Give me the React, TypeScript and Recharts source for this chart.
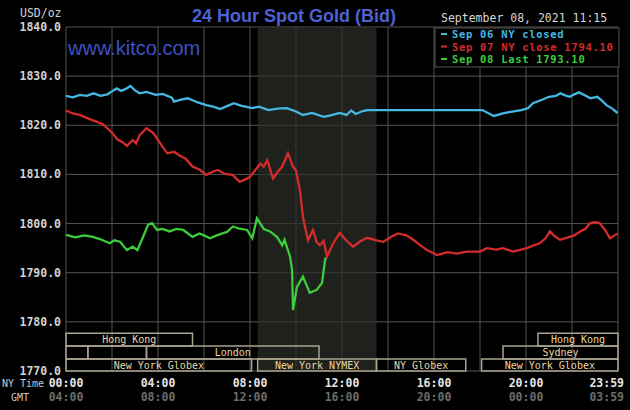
import React from 'react';
import {CartesianGrid, Line, LineChart, ReferenceArea, XAxis, YAxis} from 'recharts';

// [hour of NY day, USD/oz]
const sep06 = [
    [0, 1826.0], [0.3, 1825.7], [0.6, 1826.2], [0.9, 1826.0], [1.2, 1826.5], [1.5, 1826.0], [1.8, 1826.3],
    [2.0, 1826.9], [2.2, 1827.5], [2.4, 1827.0], [2.6, 1827.4], [2.8, 1828.0], [3.0, 1827.1], [3.2, 1826.5],
    [3.5, 1826.8], [3.9, 1826.2], [4.2, 1826.4], [4.6, 1825.6], [4.7, 1824.8], [5.0, 1825.2], [5.3, 1825.5],
    [5.7, 1824.7], [6.1, 1824.1], [6.4, 1823.8], [6.7, 1823.3], [7.0, 1823.9], [7.3, 1824.5], [7.6, 1824.0],
    [8.1, 1823.5], [8.4, 1823.8], [8.8, 1823.1], [9.2, 1823.4], [9.6, 1823.5], [10.0, 1822.8], [10.3, 1822.1],
    [10.7, 1822.5], [11.2, 1821.7], [11.5, 1822.0], [11.9, 1822.5], [12.2, 1822.1], [12.4, 1823.0], [12.6, 1822.3],
    [12.9, 1822.9], [13.1, 1823.1], [18.1, 1823.1], [18.6, 1821.9], [19.0, 1822.4], [19.4, 1822.8], [19.8, 1823.1],
    [20.1, 1823.5], [20.3, 1824.5], [20.7, 1825.2], [21.0, 1825.8], [21.3, 1826.0], [21.5, 1826.5], [21.7, 1826.1],
    [21.9, 1825.8], [22.1, 1826.3], [22.3, 1826.7], [22.6, 1826.0], [22.8, 1825.5], [23.1, 1825.8], [23.3, 1825.0],
    [23.5, 1824.1], [23.75, 1823.4], [23.98, 1822.5],
];

const sep07 = [
    [0, 1823.0], [0.3, 1822.4], [0.6, 1822.1], [1.0, 1821.3], [1.35, 1820.7], [1.6, 1820.2], [1.8, 1819.4],
    [2.0, 1818.5], [2.26, 1817.0], [2.45, 1816.6], [2.65, 1815.8], [2.9, 1817.0], [3.05, 1816.3], [3.2, 1818.0],
    [3.5, 1819.4], [3.8, 1818.4], [4.1, 1816.3], [4.4, 1814.3], [4.7, 1814.6], [4.95, 1813.8], [5.2, 1813.2],
    [5.5, 1811.6], [5.8, 1811.0], [6.1, 1809.9], [6.35, 1810.5], [6.6, 1810.9], [6.9, 1810.1], [7.25, 1809.9],
    [7.55, 1808.5], [7.8, 1809.0], [8.0, 1809.5], [8.25, 1811.0], [8.45, 1812.2], [8.6, 1811.6], [8.75, 1812.9],
    [9.0, 1809.2], [9.2, 1810.5], [9.4, 1811.6], [9.65, 1814.3], [9.87, 1811.6], [10.0, 1810.8], [10.17, 1806.8],
    [10.3, 1801.4], [10.52, 1796.6], [10.74, 1798.7], [10.9, 1796.2], [11.04, 1795.6], [11.2, 1796.5], [11.35, 1793.3],
    [11.6, 1795.8], [11.9, 1798.1], [12.2, 1796.5], [12.48, 1795.3], [12.8, 1796.4], [13.1, 1797.1], [13.5, 1796.6],
    [13.8, 1796.3], [14.1, 1797.2], [14.43, 1798.0], [14.8, 1797.6], [15.1, 1796.7], [15.4, 1795.6], [15.7, 1794.6],
    [16.13, 1793.6], [16.6, 1794.2], [17.0, 1793.9], [17.43, 1794.3], [18.0, 1794.3], [18.3, 1795.0], [18.7, 1794.7],
    [19.0, 1795.0], [19.43, 1794.3], [19.7, 1794.6], [20.04, 1795.0], [20.3, 1795.5], [20.6, 1796.0], [20.85, 1797.0],
    [21.04, 1798.4], [21.25, 1797.4], [21.48, 1796.7], [21.9, 1797.3], [22.1, 1797.6], [22.35, 1798.4], [22.6, 1799.0],
    [22.78, 1800.1], [23.0, 1800.3], [23.2, 1800.1], [23.45, 1798.6], [23.65, 1797.0], [23.85, 1797.6], [24, 1798.0],
];

const sep08 = [
    [0, 1797.7], [0.4, 1797.2], [0.8, 1797.6], [1.17, 1797.3], [1.5, 1796.8], [1.9, 1796.0], [2.1, 1796.6],
    [2.35, 1796.3], [2.65, 1794.6], [2.9, 1795.3], [3.1, 1794.6], [3.3, 1796.7], [3.57, 1799.8], [3.74, 1800.1],
    [3.96, 1798.7], [4.2, 1798.9], [4.5, 1798.4], [4.8, 1798.9], [5.1, 1798.7], [5.5, 1797.3], [5.8, 1798.0],
    [6.0, 1797.6], [6.26, 1797.0], [6.5, 1797.5], [6.8, 1798.0], [7.0, 1798.3], [7.26, 1799.4], [7.5, 1799.0],
    [7.87, 1798.7], [8.1, 1797.0], [8.3, 1801.1], [8.6, 1798.9], [8.87, 1798.4], [9.17, 1797.3], [9.4, 1795.6],
    [9.5, 1796.7], [9.74, 1793.3], [9.83, 1790.6], [9.87, 1782.4], [10.04, 1787.1], [10.3, 1789.2], [10.6, 1785.9],
    [10.9, 1786.5], [11.13, 1787.9], [11.28, 1793.1],
];

const priceTicks = [1770, 1780, 1790, 1800, 1810, 1820, 1830, 1840];
const hourTicks = [0, 2, 4, 6, 8, 10, 12, 14, 16, 18, 20, 22, 24];
const labelHours = [0, 4, 8, 12, 16, 20, 24];
const nyTimeLabels = ['00:00', '04:00', '08:00', '12:00', '16:00', '20:00', '23:59'];
const gmtLabels = ['04:00', '08:00', '12:00', '16:00', '20:00', '00:00', '03:59'];

const nymexOpen = 8.333;
const nymexClose = 13.5;

const sessionNames = ['Hong Kong', '', '', 'London', 'New York Globex', 'New York NYMEX', 'NY Globex', 'New York Globex', 'Sydney', 'Hong Kong'];
const sessionStarts = [0, 0, 0.95, 3.5, 0, 8.333, 13.5, 18.07, 19.0, 20.52];
const sessionEnds = [5.5, 0.95, 3.5, 11.0, 8.07, 13.5, 17.38, 24, 24, 24];
const sessionRows = [0, 1, 1, 1, 2, 2, 2, 2, 1, 0];

const legendNames = ['Sep 06 NY closed', 'Sep 07 NY close 1794.10', 'Sep 08 Last 1793.10'];

// price bands of the three market rows, top to bottom
const rowBands = [[1775.1, 1777.7], [1772.45, 1775.1], [1770, 1772.45]];

const mono = "'DejaVu Sans Mono', monospace";
const colors = ['#45b8e2', '#d42b2b', '#3ccc3c'];

const toPoints = (pts: number[][]) => pts.map(([h, v]) => ({h, v}));

const PriceTick = ({x, y, payload}: any) => (
    <text x={x - 5} y={y} dy={4} textAnchor="end" fill="#d2d2d2" fontSize={11.5}
          fontWeight="bold" fontFamily={mono}>{payload.value.toFixed(1)}</text>
);

const TimeTick = ({x, y, payload}: any) => {
    const i = labelHours.indexOf(payload.value);
    if (i < 0) return <g/>;
    const last = i === labelHours.length - 1;
    const tx = last ? x + 6 : x;
    const anchor = last ? 'end' : 'middle';
    return (
        <g>
            <text x={tx} y={y + 16} textAnchor={anchor} fill="#e4e4e4" fontSize={11.5}
                  fontWeight="bold" fontFamily={mono}>{nyTimeLabels[i]}</text>
            <text x={tx} y={y + 30} textAnchor={anchor} fill="#6c6c6c" fontSize={11.5}
                  fontWeight="bold" fontFamily={mono}>{gmtLabels[i]}</text>
        </g>
    );
};

const App = () => {
    return (
        <div style={{position: 'absolute', left: 0, top: 0, width: 630, height: 410, background: '#000'}}>
            <LineChart width={630} height={410} margin={{top: 27, right: 12, left: 0, bottom: 0}}>
                <ReferenceArea x1={nymexOpen} x2={nymexClose} fill="#2c2f28" fillOpacity={0.7} stroke="none"/>
                <CartesianGrid stroke="#555" strokeWidth={1}/>
                <XAxis dataKey="h" type="number" domain={[0, 24]} ticks={hourTicks} height={39}
                       axisLine={false} tickLine={false} tickSize={0} tickMargin={0} tick={<TimeTick/>}
                       allowDuplicatedCategory={false} interval={0}/>
                <YAxis type="number" domain={[1770, 1840]} ticks={priceTicks} width={66}
                       axisLine={false} tickLine={false} tickSize={0} tickMargin={0} tick={<PriceTick/>}
                       allowDataOverflow interval={0}/>
                {sessionNames.map((name, i) => (
                    <ReferenceArea key={i} x1={sessionStarts[i]} x2={sessionEnds[i]}
                                   y1={rowBands[sessionRows[i]][0]} y2={rowBands[sessionRows[i]][1]}
                                   fill="none" stroke="#aaa48e" strokeWidth={1.5}
                                   label={{value: name, position: 'center', fill: '#e6d8a6', fontSize: 10, fontFamily: mono}}/>
                ))}
                <Line data={toPoints(sep06)} dataKey="v" type="linear" stroke={colors[0]} strokeWidth={2.3}
                      dot={false} isAnimationActive={false}/>
                <Line data={toPoints(sep07)} dataKey="v" type="linear" stroke={colors[1]} strokeWidth={2.3}
                      dot={false} isAnimationActive={false}/>
                <Line data={toPoints(sep08)} dataKey="v" type="linear" stroke={colors[2]} strokeWidth={2.3}
                      dot={false} isAnimationActive={false}/>
            </LineChart>
            <svg width={630} height={410} style={{position: 'absolute', left: 0, top: 0, pointerEvents: 'none'}}>
                <text x={294} y={22} textAnchor="middle" fill="#4d62d4" fontSize={18} fontWeight="bold"
                      fontFamily="'Liberation Sans', Arial, sans-serif">24 Hour Spot Gold (Bid)</text>
                <text x={20} y={17} fill="#d0d0d0" fontSize={11.5} fontFamily={mono}>USD/oz</text>
                <text x={441} y={22} fill="#d6d6d6" fontSize={11.5} fontFamily={mono}>September 08, 2021 11:15</text>
                <text x={68} y={55} fill="#3c52c4" fontSize={20}
                      fontFamily="'Liberation Sans', Arial, sans-serif">www.kitco.com</text>
                <rect x={435} y={28} width={184} height={39} fill="#000" stroke="#555"/>
                {legendNames.map((name, i) => (
                    <g key={name}>
                        <rect x={441} y={33 + i * 12.5} width={6} height={2} fill={colors[i]}/>
                        <text x={452} y={38 + i * 12.5} fill={colors[i]} fontSize={10.5} letterSpacing={0.7}
                              fontWeight="bold" fontFamily={mono}>{name}</text>
                    </g>
                ))}
                <text x={2} y={387} fill="#c8c8c8" fontSize={10} fontFamily={mono}>NY Time</text>
                <text x={11} y={401} fill="#c8c8c8" fontSize={10} fontFamily={mono}>GMT</text>
            </svg>
        </div>
    );
};

export default App;
